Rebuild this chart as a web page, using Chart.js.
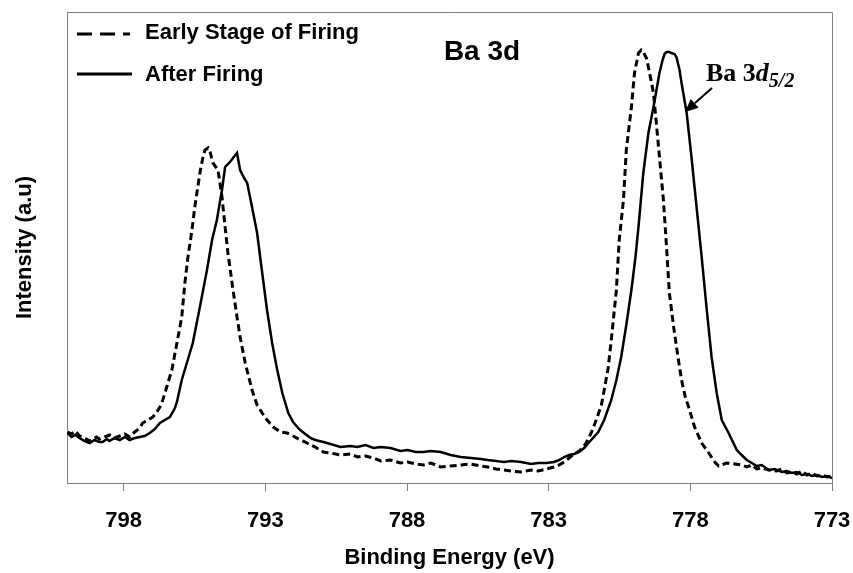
<!DOCTYPE html>
<html><head><meta charset="utf-8">
<script src="https://cdn.jsdelivr.net/npm/chart.js@4.4.0/dist/chart.umd.min.js"></script>
<style>html,body{margin:0;padding:0;background:#fff}#wrap{width:853px;height:573px;position:relative}</style>
</head><body><div id="wrap"><canvas id="c" width="853" height="573"></canvas></div>
<script>
// Binding energy (eV) and intensity (a.u.)
const energyEarly = [799.98,799.84,799.70,799.56,799.38,799.20,799.10,798.96,798.85,798.67,798.50,798.32,798.14,797.96,797.79,797.61,797.43,797.33,797.15,796.97,796.83,796.72,796.62,796.48,796.30,796.12,795.95,795.84,795.73,795.59,795.49,795.31,795.20,795.13,795.02,794.95,794.85,794.67,794.53,794.42,794.32,794.14,794.00,793.89,793.71,793.47,793.29,793.11,792.94,792.72,792.47,792.23,792.02,791.77,791.59,791.41,791.24,790.95,790.70,790.35,790.00,789.75,789.47,789.18,788.93,788.58,788.23,787.98,787.69,787.41,787.16,786.81,786.46,786.10,785.75,785.39,785.15,784.86,784.58,784.33,783.98,783.62,783.37,783.09,782.81,782.63,782.45,782.28,782.10,781.92,781.75,781.68,781.50,781.32,781.14,781.04,780.90,780.79,780.61,780.51,780.36,780.26,780.08,779.97,779.83,779.73,779.66,779.55,779.48,779.30,779.20,779.09,778.95,778.84,778.74,778.56,778.42,778.31,778.17,778.06,777.85,777.60,777.35,777.14,777.00,776.72,776.43,776.19,776.01,775.83,775.66,775.48,775.23,774.95,774.77,774.59,774.42,774.24,774.06,773.88,773.71,773.53,773.35,773.18,773.00];
const intensityEarly = [51,49,52,47,45,42,43,46,44,46,48,45,47,49,46,51,55,60,63,66,71,76,83,96,113,140,166,200,226,253,276,310,326,333,335,331,320,313,286,256,230,193,166,146,120,93,78,70,63,56,51,50,47,43,41,38,36,31,30,28,29,26,27,25,22,23,20,21,19,18,20,16,17,18,19,17,16,14,13,12,11,13,12,14,16,18,21,25,29,32,37,40,50,63,78,93,115,143,193,243,283,333,376,410,430,433,431,425,416,390,360,326,283,236,190,150,123,103,85,76,56,40,30,21,17,20,19,18,16,18,14,15,13,12,14,10,11,9,12,8,10,7,8,6,7];
const energyAfter = [799.98,799.84,799.70,799.56,799.38,799.20,799.03,798.85,798.74,798.60,798.50,798.32,798.14,797.96,797.79,797.61,797.43,797.26,797.08,796.90,796.72,796.55,796.37,796.19,796.12,795.95,795.77,795.56,795.31,795.06,794.88,794.71,794.53,794.42,794.25,794.14,794.00,793.89,793.75,793.64,793.47,793.29,793.11,792.94,792.76,792.58,792.40,792.19,792.02,791.87,791.77,791.59,791.41,791.24,790.95,790.70,790.35,790.00,789.75,789.47,789.18,788.93,788.58,788.23,787.98,787.69,787.41,787.16,786.81,786.46,786.10,785.75,785.39,785.15,784.86,784.58,784.33,783.98,783.62,783.37,783.09,782.81,782.63,782.45,782.28,782.10,781.92,781.75,781.50,781.25,781.04,780.79,780.61,780.44,780.26,780.08,779.94,779.83,779.66,779.48,779.30,779.09,778.98,778.91,778.84,778.74,778.67,778.56,778.49,778.38,778.31,778.13,777.96,777.78,777.60,777.43,777.25,777.07,776.89,776.65,776.36,776.19,776.01,775.83,775.66,775.48,775.23,775.02,774.77,774.59,774.42,774.24,774.06,773.88,773.71,773.53,773.35,773.18,773.00];
const intensityAfter = [50,46,48,45,42,40,43,41,41,44,42,45,43,46,43,45,46,47,50,54,60,63,66,75,81,103,120,140,176,213,243,263,293,316,321,325,330,313,305,300,276,250,210,173,140,113,90,70,61,56,53,49,45,43,41,39,36,37,36,38,35,36,35,32,33,31,31,32,31,28,26,25,24,23,22,21,22,21,19,20,20,21,23,26,28,29,31,35,43,51,63,83,103,126,158,193,225,256,310,350,376,410,423,429,431,431,430,429,426,413,400,370,326,276,226,176,126,90,63,50,33,28,23,20,17,18,13,14,11,12,10,11,8,9,7,8,6,7,5];
const xTickValues = [798,793,788,783,778,773];
const seriesNames = ['Early Stage of Firing','After Firing'];
const chartTitle = 'Ba 3d';
const xTitle = 'Binding Energy (eV)';
const yTitle = 'Intensity (a.u)';

const toPts = (xs, ys) => xs.map((x, i) => ({x: x, y: ys[i]}));
const SANS = "'Liberation Sans', Arial, sans-serif";
const SERIF = "'Liberation Serif', 'Times New Roman', serif";

const overlay = {
  id: 'overlay',
  afterDraw(chart) {
    const {ctx, chartArea: a} = chart;
    ctx.save();
    // frame (top + right)
    ctx.strokeStyle = '#808080'; ctx.lineWidth = 1;
    ctx.beginPath();
    ctx.moveTo(a.left, a.top + 0.5);
    ctx.lineTo(a.right + 0.5, a.top + 0.5);
    ctx.lineTo(a.right + 0.5, a.bottom);
    ctx.stroke();
    // legend
    ctx.strokeStyle = '#000'; ctx.lineWidth = 3;
    ctx.setLineDash([15, 8]);
    ctx.beginPath(); ctx.moveTo(77, 34); ctx.lineTo(130, 34); ctx.stroke();
    ctx.setLineDash([]);
    ctx.beginPath(); ctx.moveTo(77, 74); ctx.lineTo(132, 74); ctx.stroke();
    ctx.fillStyle = '#000';
    ctx.font = 'bold 22px ' + SANS;
    ctx.textBaseline = 'middle'; ctx.textAlign = 'left';
    ctx.fillText(seriesNames[0], 145, 33);
    ctx.fillText(seriesNames[1], 145, 75);
    // title
    ctx.font = 'bold 28px ' + SANS;
    ctx.textAlign = 'center';
    ctx.fillText(chartTitle, 482, 52);
    // annotation Ba 3d5/2
    ctx.textAlign = 'left'; ctx.textBaseline = 'alphabetic';
    let x = 706;
    ctx.font = 'bold 26px ' + SERIF;
    ctx.fillText('Ba 3', x, 81);
    x += ctx.measureText('Ba 3').width;
    ctx.font = 'italic bold 26px ' + SERIF;
    ctx.fillText('d', x, 81);
    x += ctx.measureText('d').width;
    ctx.font = 'italic bold 20px ' + SERIF;
    ctx.fillText('5/2', x, 87);
    // arrow
    const x0 = 712, y0 = 88, x1 = 685, y1 = 112;
    const dx = x1 - x0, dy = y1 - y0, L = Math.hypot(dx, dy);
    const ux = dx / L, uy = dy / L;
    const hl = 13, hw = 6;
    const bx = x1 - ux * hl, by = y1 - uy * hl;
    ctx.lineWidth = 2;
    ctx.beginPath(); ctx.moveTo(x0, y0); ctx.lineTo(bx, by); ctx.stroke();
    ctx.beginPath();
    ctx.moveTo(x1, y1);
    ctx.lineTo(bx - uy * hw, by + ux * hw);
    ctx.lineTo(bx + uy * hw, by - ux * hw);
    ctx.closePath(); ctx.fill();
    ctx.restore();
  }
};

new Chart(document.getElementById('c'), {
  type: 'scatter',
  data: {
    datasets: [
      {label: seriesNames[0], data: toPts(energyEarly, intensityEarly), showLine: true,
       borderColor: '#000', borderWidth: 3, borderDash: [7, 4], pointRadius: 0, tension: 0, fill: false},
      {label: seriesNames[1], data: toPts(energyAfter, intensityAfter), showLine: true,
       borderColor: '#000', borderWidth: 2.5, pointRadius: 0, tension: 0, fill: false}
    ]
  },
  options: {
    responsive: false, animation: false, devicePixelRatio: 1,
    layout: {autoPadding: false, padding: {top: 12, right: 21, left: 0, bottom: 0}},
    plugins: {legend: {display: false}, tooltip: {enabled: false}},
    scales: {
      x: {
        type: 'linear', reverse: true, min: 773, max: 800,
        afterBuildTicks: s => { s.ticks = xTickValues.map(v => ({value: v})); },
        afterFit: s => { s.height = 90; s.paddingLeft = 0; s.paddingRight = 0; },
        grid: {display: true, drawOnChartArea: false, drawTicks: true, tickLength: 8, color: '#808080', lineWidth: 1},
        border: {display: true, color: '#808080', width: 1},
        ticks: {color: '#000', font: {family: SANS, size: 22, weight: 'bold'}, padding: 17, maxRotation: 0, autoSkip: false},
        title: {display: true, text: xTitle, color: '#000', font: {family: SANS, size: 22, weight: 'bold'}, padding: {top: 0, bottom: 2}}
      },
      y: {
        type: 'linear', min: 0, max: 471,
        afterFit: s => { s.width = 67; },
        grid: {display: false},
        border: {display: true, color: '#808080', width: 1},
        ticks: {display: false},
        title: {display: true, text: yTitle, color: '#000', font: {family: SANS, size: 22, weight: 'bold'}, padding: {top: 12, bottom: 0}}
      }
    }
  },
  plugins: [overlay]
});
</script></body></html>
